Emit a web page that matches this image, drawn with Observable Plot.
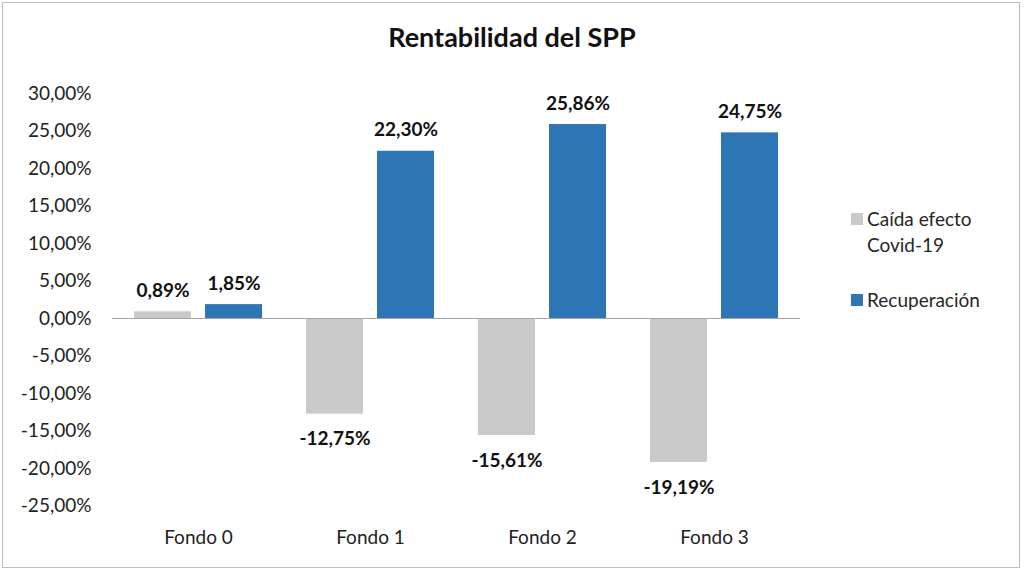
<!DOCTYPE html>
<html>
<head>
<meta charset="utf-8">
<script src="https://cdn.jsdelivr.net/npm/d3@7"></script>
<script src="https://cdn.jsdelivr.net/npm/@observablehq/plot@0.6"></script>
<style>
  html, body { margin: 0; padding: 0; background: #fff; }
  #wrap { position: relative; width: 1024px; height: 571px; overflow: hidden; font-family: Lato, "Open Sans", sans-serif; color: #222; }
  #frame { position: absolute; left: 2px; top: 2px; width: 1018px; height: 566px; border: 1.5px solid #bdbdbd; box-sizing: border-box; pointer-events: none; }
  #title { height: 60px; box-sizing: border-box; padding-top: 21px; text-align: center; font-weight: bold; font-size: 27px; line-height: 31px; color: #111; }
  #legend { position: absolute; left: 851px; top: 206px; font-size: 19px; color: #262626; }
  .item { position: relative; padding-left: 16px; line-height: 26px; }
  .sw { position: absolute; left: 0; top: 7px; width: 12px; height: 12px; }
</style>
</head>
<body>
<div id="wrap">
  <div id="title">Rentabilidad del SPP</div>
  <div id="chart"></div>
  <div id="legend"></div>
  <div id="frame"></div>
</div>
<script>
const fondos = ["Fondo 0", "Fondo 1", "Fondo 2", "Fondo 3"];
const series = ["Caída efecto Covid-19", "Recuperación"];
const caida = [0.89, -12.75, -15.61, -19.19];
const recuperacion = [1.85, 22.30, 25.86, 24.75];
const yTicks = [-25, -20, -15, -10, -5, 0, 5, 10, 15, 20, 25, 30];
const colors = ["#C9C9C9", "#2E75B6"];

const fmt = v => v.toFixed(2).replace(".", ",") + "%";

const data = [];
fondos.forEach((f, i) => {
  data.push({fondo: f, serie: series[0], value: caida[i]});
  data.push({fondo: f, serie: series[1], value: recuperacion[i]});
});

const chart = Plot.plot({
  width: 1024,
  height: 511,
  marginLeft: 111,
  marginRight: 223,
  marginTop: 33,
  marginBottom: 65.5,
  style: {fontFamily: "Lato, 'Open Sans', sans-serif", fontSize: "19px", color: "#222", background: "transparent"},
  fx: {domain: fondos, padding: 0, axis: "bottom", label: null, tickSize: 0, tickPadding: 24},
  x: {domain: series, axis: null, paddingInner: 0.2, paddingOuter: 0.3},
  y: {domain: [-25, 30], ticks: yTicks, tickFormat: fmt, tickSize: 0, tickPadding: 21, label: null},
  color: {domain: series, range: colors},
  marks: [
    Plot.barY(data, {fx: "fondo", x: "serie", y: "value", fill: "serie"}),
    Plot.ruleY([0], {stroke: "#a6a6a6", strokeWidth: 1.2}),
    Plot.text(data.filter(d => d.value >= 0), {fx: "fondo", x: "serie", y: "value", text: d => fmt(d.value), dy: -21, fontWeight: "bold", fontSize: 19, fill: "#111"}),
    Plot.text(data.filter(d => d.value < 0), {fx: "fondo", x: "serie", y: "value", text: d => fmt(d.value), dy: 25, fontWeight: "bold", fontSize: 19, fill: "#111"})
  ]
});
document.getElementById("chart").appendChild(chart);

const legend = document.getElementById("legend");
const legendLabels = [["Caída efecto", "Covid-19"], ["Recuperación"]];
legendLabels.forEach((lines, i) => {
  const item = document.createElement("div");
  item.className = "item";
  item.style.marginBottom = i === 0 ? "29px" : "0";
  const sw = document.createElement("span");
  sw.className = "sw";
  sw.style.background = colors[i];
  item.appendChild(sw);
  lines.forEach(t => {
    const l = document.createElement("div");
    l.textContent = t;
    item.appendChild(l);
  });
  legend.appendChild(item);
});
</script>
</body>
</html>
